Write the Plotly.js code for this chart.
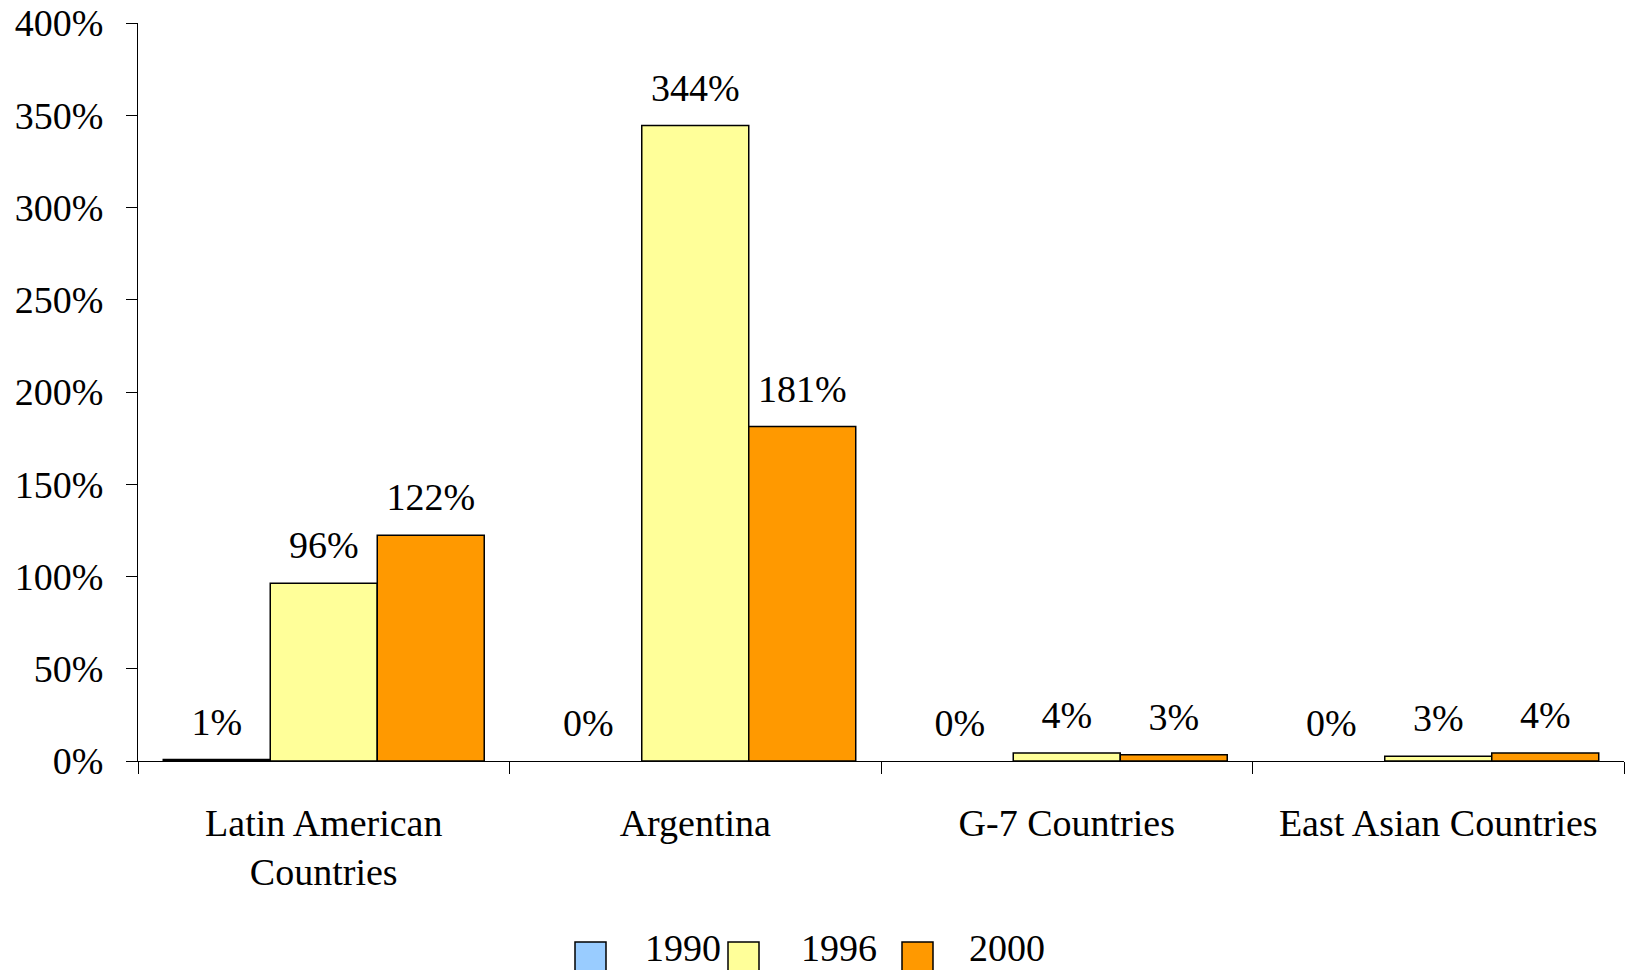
<!DOCTYPE html>
<html>
<head>
<meta charset="utf-8">
<script src="https://cdn.plot.ly/plotly-3.0.1.min.js"></script>
<style>html,body{margin:0;padding:0;background:#fff;}#chart{width:1628px;height:970px;}</style>
</head>
<body>
<div id="chart"></div>
<script>
const categories = ["Latin American<br>Countries", "Argentina", "G-7 Countries", "East Asian Countries"];
const seriesNames = ["1990", "1996", "2000"];
const values1990 = [0.8, 0, 0, 0];
const values1996 = [96.4, 344.4, 4.4, 2.6];
const values2000 = [122.4, 181.3, 3.4, 4.3];
const colors = ["#99CCFF", "#FFFF99", "#FF9900"];
const yTicks = [0, 50, 100, 150, 200, 250, 300, 350, 400];

const font = {family: "Liberation Serif, Times New Roman, serif", size: 38, color: "#000"};
const allValues = [values1990, values1996, values2000];

// Bars
const barTraces = allValues.map((vals, i) => ({
  type: "bar",
  name: seriesNames[i],
  x: categories,
  y: vals,
  marker: {color: colors[i], line: {color: "#000", width: vals.map(v => v > 0 ? 1.5 : 0)}},
  showlegend: false,
  hoverinfo: "x+y+name"
}));

// Value labels (grouped scatter text aligned with bars, offset above each bar)
const labelTraces = allValues.map((vals, i) => ({
  type: "scatter",
  mode: "markers+text",
  name: seriesNames[i] + " labels",
  x: categories,
  y: vals,
  text: vals.map(v => Math.round(v) + "%"),
  textposition: "top center",
  textfont: font,
  marker: {size: 23, opacity: 0, color: colors[i]},
  cliponaxis: false,
  showlegend: false,
  hoverinfo: "skip"
}));

// Manual legend (large outlined squares like the original)
const plotL = 138, plotR = 1624, plotT = 23, plotB = 761;
const fx = px => (px - plotL) / (plotR - plotL);
const fy = py => (plotB - py) / (plotB - plotT);
const legendSquareX = [575, 728, 902];
const legendTextX = [644, 800, 968];
const legendTop = 942, legendSize = 31;

const shapes = seriesNames.map((n, i) => ({
  type: "rect", xref: "paper", yref: "paper",
  x0: fx(legendSquareX[i]), x1: fx(legendSquareX[i] + legendSize),
  y0: fy(legendTop), y1: fy(legendTop + legendSize),
  fillcolor: colors[i], line: {color: "#000", width: 1.5}
}));
const annotations = seriesNames.map((n, i) => ({
  text: n, xref: "paper", yref: "paper",
  x: fx(legendTextX[i]), y: fy(970),
  xanchor: "left", yanchor: "bottom", showarrow: false,
  borderpad: 0,
  font: font
}));

const layout = {
  width: 1628, height: 970,
  margin: {l: plotL, r: 1628 - plotR, t: plotT, b: 970 - plotB},
  paper_bgcolor: "#fff", plot_bgcolor: "#fff",
  font: font,
  barmode: "group",
  bargap: 0.136,
  bargroupgap: 0,
  scattermode: "group",
  scattergap: 0.136,
  showlegend: false,
  shapes: shapes,
  annotations: annotations,
  xaxis: {
    showline: true, linecolor: "#000", linewidth: 1,
    ticks: "outside", tickson: "boundaries", ticklen: 12, tickcolor: "#000",
    showgrid: false, zeroline: false, tickfont: font,
    ticklabelstandoff: 28, fixedrange: true
  },
  yaxis: {
    range: [0, 400], tickvals: yTicks, ticktext: yTicks.map(v => v + "%"),
    showline: true, linecolor: "#000", linewidth: 1,
    ticks: "outside", ticklen: 11, tickcolor: "#000",
    showgrid: false, zeroline: false, tickfont: font,
    ticklabelstandoff: 15, fixedrange: true
  }
};

Plotly.newPlot("chart", barTraces.concat(labelTraces), layout, {displayModeBar: false});
</script>
</body>
</html>
